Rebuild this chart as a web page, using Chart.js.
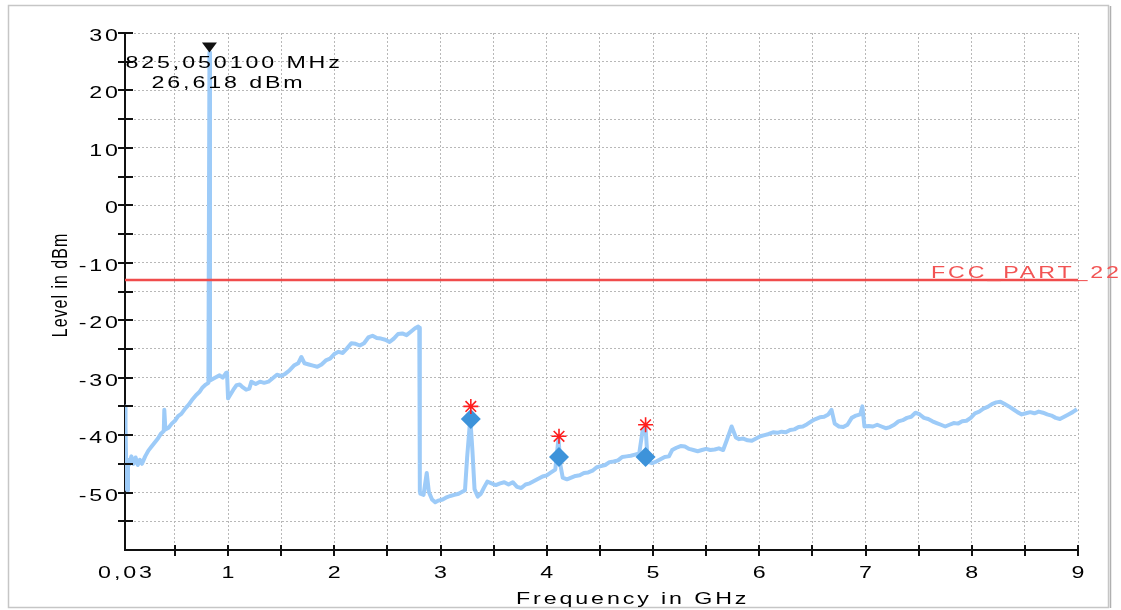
<!DOCTYPE html>
<html>
<head>
<meta charset="utf-8">
<script src="https://cdn.jsdelivr.net/npm/chart.js@4.4.0/dist/chart.umd.min.js"></script>
<style>
  html, body { margin: 0; padding: 0; background: #fff; }
  #wrap { position: relative; width: 1121px; height: 610px; }
</style>
</head>
<body>
<div id="wrap"><canvas id="myChart" width="1121" height="610"></canvas></div>
<script>
var ctx = document.getElementById('myChart').getContext('2d');

// trace: frequency (GHz) / level (dBm)
var freqGHz = [
  0.030, 0.035, 0.045, 0.052, 0.058, 0.07, 0.09, 0.11, 0.13, 0.15, 0.17, 0.19, 0.22, 0.25, 0.28, 0.31, 0.34, 0.37, 0.395, 0.40, 0.41,
  0.44, 0.47, 0.50, 0.53, 0.56, 0.60, 0.63, 0.66, 0.70, 0.73, 0.76, 0.79, 0.815, 0.825, 0.83, 0.86, 0.89, 0.92, 0.95, 0.98, 0.99,
  1.00, 1.02, 1.05, 1.08, 1.11, 1.14, 1.17, 1.20, 1.22, 1.26, 1.30, 1.34, 1.38, 1.42, 1.46, 1.50, 1.54, 1.58, 1.62, 1.66, 1.69,
  1.72, 1.76, 1.80, 1.84, 1.88, 1.92, 1.96, 2.00, 2.04, 2.08, 2.12, 2.16, 2.20, 2.24, 2.28, 2.32, 2.36, 2.40, 2.44, 2.48, 2.52,
  2.56, 2.60, 2.64, 2.68, 2.72, 2.76, 2.79, 2.80, 2.805,
  2.81, 2.84, 2.87, 2.89, 2.92, 2.95, 2.98, 3.02, 3.05, 3.09, 3.13, 3.17, 3.20, 3.23, 3.25, 3.28, 3.30, 3.32, 3.35, 3.38, 3.41,
  3.44, 3.48, 3.52, 3.56, 3.60, 3.64, 3.68, 3.72, 3.76, 3.80, 3.84, 3.88, 3.92, 3.96, 4.00, 4.04, 4.08, 4.11, 4.13, 4.15, 4.19,
  4.23, 4.27, 4.31, 4.35, 4.39, 4.43, 4.47, 4.51, 4.55, 4.59, 4.63, 4.67, 4.71, 4.75, 4.79, 4.83, 4.87, 4.90, 4.93, 4.95, 4.99,
  5.03, 5.07, 5.11, 5.15, 5.18, 5.22, 5.26, 5.30, 5.34, 5.38, 5.42, 5.46, 5.50, 5.54, 5.58, 5.62, 5.66, 5.70, 5.74, 5.78, 5.81,
  5.85, 5.89, 5.93, 5.97, 6.01, 6.05, 6.09, 6.13, 6.17, 6.21, 6.25, 6.29, 6.33, 6.37, 6.41, 6.45, 6.49, 6.53, 6.57, 6.61, 6.65,
  6.68, 6.71, 6.75, 6.79, 6.83, 6.87, 6.91, 6.95, 6.97, 6.99, 7.03, 7.07, 7.11, 7.15, 7.19, 7.23, 7.27, 7.31, 7.35, 7.39, 7.43,
  7.47, 7.51, 7.55, 7.59, 7.63, 7.67, 7.71, 7.75, 7.79, 7.83, 7.87, 7.91, 7.95, 7.99, 8.03, 8.07, 8.11, 8.15, 8.19, 8.23, 8.27,
  8.31, 8.35, 8.39, 8.43, 8.47, 8.51, 8.55, 8.59, 8.63, 8.67, 8.71, 8.75, 8.79, 8.83, 8.87, 8.91, 8.95, 8.99
];
var levelDbm = [
  -35.0, -38.6, -49.4, -49.6, -44.3, -45.1, -43.7, -45.0, -43.9, -45.2, -44.3, -45.0, -43.7, -42.7, -42.0, -41.3, -40.6, -39.7, -39.3, -35.6, -39.0,
  -38.7, -38.0, -37.5, -36.7, -36.3, -35.3, -34.7, -33.9, -33.0, -32.5, -31.7, -31.2, -30.9, 26.6, -30.5, -30.2, -29.9, -29.6, -30.0, -29.2, -29.1,
  -33.6, -33.0, -32.1, -31.3, -31.2, -31.7, -32.1, -31.9, -30.7, -31.1, -30.7, -30.9, -30.7, -30.1, -29.5, -29.7, -29.3, -28.7, -27.9, -27.5, -26.4,
  -27.5, -27.7, -27.9, -28.1, -27.7, -27.0, -26.7, -25.9, -25.5, -25.7, -24.9, -24.0, -24.1, -24.4, -24.0, -23.0, -22.7, -23.1, -23.2, -23.4, -23.8,
  -23.2, -22.4, -22.3, -22.6, -22.0, -21.4, -21.1, -21.3, -49.8,
  -50.2, -50.4, -46.6, -49.9, -51.2, -51.7, -51.4, -51.2, -50.9, -50.6, -50.4, -50.2, -49.9, -49.6, -43.9, -37.1, -42.7, -49.4, -50.7, -50.2, -49.1,
  -48.1, -48.4, -48.7, -48.4, -48.2, -48.6, -48.2, -49.0, -49.2, -48.6, -48.4, -48.0, -47.6, -47.2, -47.0, -46.5, -46.0, -40.6, -45.4, -47.4, -47.7,
  -47.4, -47.1, -47.0, -46.6, -46.5, -46.2, -45.6, -45.4, -45.2, -44.7, -44.6, -44.4, -43.8, -43.7, -43.6, -43.4, -43.2, -39.4, -38.8, -44.6, -44.9,
  -44.6, -44.2, -43.8, -43.7, -42.6, -42.2, -41.9, -42.0, -42.4, -42.6, -42.8, -42.6, -42.4, -42.6, -42.5, -42.3, -42.6, -40.6, -38.5, -40.4, -40.7,
  -40.6, -40.9, -41.0, -40.6, -40.2, -40.0, -39.8, -39.5, -39.6, -39.4, -39.5, -39.1, -39.0, -38.6, -38.5, -38.1, -37.6, -37.2, -36.9, -36.8, -36.4,
  -35.6, -38.0, -38.5, -38.6, -38.2, -37.0, -36.6, -36.4, -35.0, -38.5, -38.4, -38.5, -38.2, -38.5, -38.8, -38.6, -38.2, -37.6, -37.4, -37.0, -36.8,
  -36.1, -36.4, -37.0, -37.2, -37.6, -37.9, -38.2, -38.5, -38.2, -37.9, -38.0, -37.6, -37.5, -37.0, -36.2, -35.9, -35.4, -35.1, -34.6, -34.3, -34.2,
  -34.6, -35.0, -35.5, -36.0, -36.4, -36.2, -36.0, -36.2, -35.9, -36.1, -36.4, -36.6, -37.0, -37.2, -36.8, -36.4, -36.0, -35.5
];

// limit line FCC_PART_22
var limitFreq = [0.03, 9];
var limitLevel = [-13, -13];
var limitName = 'FCC_PART_22';

// final measurement points (diamonds) and peaks (stars)
var finalFreq = [3.285, 4.115, 4.93];
var finalLevel = [-37.2, -43.8, -43.8];
var peakLevel = [-35.0, -40.2, -38.2];

// marker on the carrier
var markerFreq = 0.825;
var markerLevel = 26.618;
var markerText = ['825,050100 MHz', '26,618 dBm'];

// axes
var xTicks = [0.03, 0.5, 1, 1.5, 2, 2.5, 3, 3.5, 4, 4.5, 5, 5.5, 6, 6.5, 7, 7.5, 8, 8.5, 9];
var xTickLabels = { 0.03: '0,03', 1: '1', 2: '2', 3: '3', 4: '4', 5: '5', 6: '6', 7: '7', 8: '8', 9: '9' };
var yTicks = [-60, -55, -50, -45, -40, -35, -30, -25, -20, -15, -10, -5, 0, 5, 10, 15, 20, 25, 30];
var yTickLabels = { '-50': '-50', '-40': '-40', '-30': '-30', '-20': '-20', '-10': '-10', '0': '0', '10': '10', '20': '20', '30': '30' };
var xTitle = 'Frequency in GHz';
var yTitle = 'Level in dBm';

var FONT = '"Liberation Sans", Arial, sans-serif';

// the picture's text is stretched sideways, so draw it scaled
function stretchText(c, str, x, y, opt) {
    opt = opt || {};
    var ls = opt.ls === undefined ? 2 : opt.ls;
    var sx = opt.sx || 1.45;
    c.save();
    c.font = (opt.size || 16) + 'px ' + FONT;
    c.fillStyle = opt.color || '#000';
    c.letterSpacing = ls + 'px';
    c.textAlign = 'left';
    c.textBaseline = 'alphabetic';
    var w = c.measureText(str).width - ls;
    var dx = 0;
    if (opt.align === 'center') dx = -w / 2;
    else if (opt.align === 'right') dx = -w;
    c.translate(x, y);
    c.scale(sx, 1);
    c.fillText(str, dx, 0);
    c.restore();
}

var decoPlugin = {
    id: 'deco',
    beforeDraw: function (chart) {
        var c = chart.ctx;
        c.save();
        c.fillStyle = '#fff';
        c.fillRect(0, 0, chart.width, chart.height);
        c.strokeStyle = '#c6c6c6';
        c.lineWidth = 1.5;
        c.strokeRect(8.5, 5.5, 1100, 602);
        c.strokeStyle = '#b0b0b0';
        c.beginPath();
        c.moveTo(1110.5, 6); c.lineTo(1110.5, 608);
        c.stroke();
        c.restore();
    },
    afterDraw: function (chart) {
        var c = chart.ctx;
        var xs = chart.scales.x, ys = chart.scales.y;
        var axisY = chart.chartArea.bottom, axisX = chart.chartArea.left;

        c.save();
        c.strokeStyle = '#111';
        c.lineWidth = 2;
        c.beginPath();
        xTicks.forEach(function (v) {
            if (v === xTicks[0]) return;
            var px = Math.round(xs.getPixelForValue(v));
            c.moveTo(px, axisY - 5); c.lineTo(px, axisY + 6);
        });
        yTicks.forEach(function (v) {
            if (v === yTicks[0]) return;
            var py = Math.round(ys.getPixelForValue(v));
            c.moveTo(axisX - 7, py); c.lineTo(axisX + 8, py);
        });
        c.stroke();
        c.restore();

        xTicks.forEach(function (v) {
            if (xTickLabels[v] === undefined) return;
            stretchText(c, xTickLabels[v], xs.getPixelForValue(v), axisY + 28, { align: 'center' });
        });
        yTicks.forEach(function (v) {
            var t = yTickLabels[String(v)];
            if (t === undefined) return;
            stretchText(c, t, axisX - 7, ys.getPixelForValue(v) + 8, { align: 'right' });
        });

        // axis titles
        stretchText(c, xTitle, 516, 604, { ls: 2 });
        c.save();
        c.translate(67, 285);
        c.rotate(-Math.PI / 2);
        c.scale(1, 1.4);
        c.font = '16px ' + FONT;
        c.letterSpacing = '1px';
        c.fillStyle = '#000';
        c.textAlign = 'center';
        c.fillText(yTitle, 0, 0);
        c.restore();

        // limit line name
        var ly = ys.getPixelForValue(limitLevel[0]);
        stretchText(c, limitName, 931, ly - 2, { color: '#f25454' });

        // carrier marker: triangle and readout
        var mx = xs.getPixelForValue(markerFreq), my = ys.getPixelForValue(markerLevel);
        c.save();
        c.fillStyle = '#111';
        c.beginPath();
        c.moveTo(mx - 7.5, my - 10);
        c.lineTo(mx + 7.5, my - 10);
        c.lineTo(mx, my);
        c.closePath();
        c.fill();
        c.restore();
        stretchText(c, markerText[0], mx - 84, my + 16);
        stretchText(c, markerText[1], mx - 58, my + 36);
    }
};

var chart = new Chart(ctx, {
    type: 'line',
    data: {
        datasets: [
            {
                label: 'Peak',
                data: finalFreq.map(function (f, i) { return { x: f, y: peakLevel[i] }; }),
                showLine: false,
                pointStyle: 'star',
                pointRadius: 7.5,
                pointBorderColor: '#ff1e1e',
                pointBorderWidth: 1.6,
                order: 0
            },
            {
                label: 'Final',
                data: finalFreq.map(function (f, i) { return { x: f, y: finalLevel[i] }; }),
                showLine: false,
                pointStyle: 'rectRot',
                pointRadius: 10,
                pointBackgroundColor: '#3d93da',
                pointBorderColor: '#3d93da',
                pointBorderWidth: 0,
                order: 1
            },
            {
                label: limitName,
                data: limitFreq.map(function (f, i) { return { x: f, y: limitLevel[i] }; }),
                borderColor: '#f04c4c',
                borderWidth: 2.5,
                pointRadius: 0,
                order: 2
            },
            {
                label: 'Trace',
                data: freqGHz.map(function (f, i) { return { x: f, y: levelDbm[i] }; }),
                borderColor: '#9dcbf8',
                borderWidth: 4,
                borderJoinStyle: 'round',
                pointRadius: 0,
                tension: 0,
                order: 3
            }
        ]
    },
    options: {
        responsive: false,
        animation: false,
        layout: { padding: { left: 0, top: 33, right: 43, bottom: 0 } },
        plugins: { legend: { display: false }, tooltip: { enabled: false } },
        scales: {
            x: {
                type: 'linear',
                min: 0.03,
                max: 9,
                afterBuildTicks: function (s) { s.ticks = xTicks.map(function (v) { return { value: v }; }); },
                afterFit: function (s) { s.height = 60; },
                ticks: { display: false },
                grid: { color: '#b8b8b8', lineWidth: 1, drawTicks: false },
                border: { display: true, color: '#111', width: 2, dash: [2, 2] }
            },
            y: {
                type: 'linear',
                min: -60,
                max: 30,
                afterBuildTicks: function (s) { s.ticks = yTicks.map(function (v) { return { value: v }; }); },
                afterFit: function (s) { s.width = 125; },
                ticks: { display: false },
                grid: { color: '#b8b8b8', lineWidth: 1, drawTicks: false },
                border: { display: true, color: '#111', width: 2, dash: [2, 2] }
            }
        }
    },
    plugins: [decoPlugin]
});
</script>
</body>
</html>
